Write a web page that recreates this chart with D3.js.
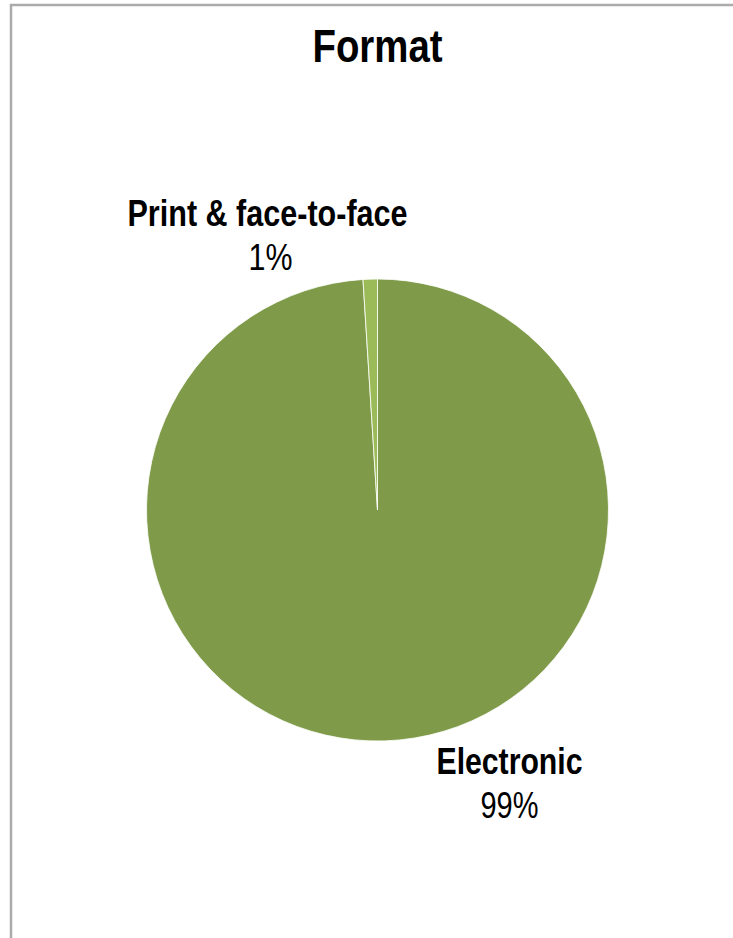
<!DOCTYPE html>
<html>
<head>
<meta charset="utf-8">
<script src="https://cdn.jsdelivr.net/npm/d3@7"></script>
<style>
  body { margin: 0; background: #fff; }
  text { font-family: "Liberation Sans Narrow", "Arial Narrow", "Liberation Sans", Arial, sans-serif; fill: #000; }
</style>
</head>
<body>
<div id="chart"></div>
<script>
// data
var categories = ["Electronic", "Print & face-to-face"];
var values = [99, 1];
var colors = ["#7f9b4a", "#9bbb59"];

var width = 733, height = 938;
var cx = 377.5, cy = 510, radius = 231;

var svg = d3.select("#chart")
  .append("svg")
    .attr("width", width)
    .attr("height", height);

// chart area border (only top and left visible)
svg.append("path")
  .attr("d", "M11," + height + " L11,5 L" + width + ",5")
  .attr("fill", "none")
  .attr("stroke", "#ababab")
  .attr("stroke-width", 2.5);

// title
svg.append("text")
  .attr("x", cx)
  .attr("y", 62)
  .attr("text-anchor", "middle")
  .style("font-size", "47px")
  .style("font-weight", "bold")
  .attr("textLength", 130)
  .attr("lengthAdjust", "spacingAndGlyphs")
  .text("Format");

var data = categories.map(function(c, i) { return {name: c, value: values[i], color: colors[i]}; });

var pie = d3.pie()
  .sort(null)
  .value(function(d) { return d.value; });

var arc = d3.arc()
  .innerRadius(0)
  .outerRadius(radius);

var g = svg.append("g")
  .attr("transform", "translate(" + cx + "," + cy + ")");

g.selectAll("path.slice")
  .data(pie(data))
  .enter()
  .append("path")
    .attr("class", "slice")
    .attr("d", arc)
    .attr("fill", function(d) { return d.data.color; })
    .attr("stroke", "#fff")
    .attr("stroke-width", 0.8);

// data labels (placed like Excel's best-fit positions, relative to the centre)
var labelPos = [
  {dx: 132, nameY: 264, pctY: 308, nameLen: 146, pctLen: 58, pctShift: 0},
  {dx: -110, nameY: -284, pctY: -240, nameLen: 280, pctLen: 44, pctShift: 3}
];

var labels = g.selectAll("g.label")
  .data(pie(data))
  .enter()
  .append("g")
    .attr("class", "label");

labels.append("text")
  .attr("x", function(d, i) { return labelPos[i].dx; })
  .attr("y", function(d, i) { return labelPos[i].nameY; })
  .attr("text-anchor", "middle")
  .style("font-size", "37px")
  .style("font-weight", "bold")
  .attr("textLength", function(d, i) { return labelPos[i].nameLen; })
  .attr("lengthAdjust", "spacingAndGlyphs")
  .text(function(d) { return d.data.name; });

labels.append("text")
  .attr("x", function(d, i) { return labelPos[i].dx + labelPos[i].pctShift; })
  .attr("y", function(d, i) { return labelPos[i].pctY; })
  .attr("text-anchor", "middle")
  .style("font-size", "37px")
  .attr("textLength", function(d, i) { return labelPos[i].pctLen; })
  .attr("lengthAdjust", "spacingAndGlyphs")
  .text(function(d) { return d.data.value + "%"; });
</script>
</body>
</html>
